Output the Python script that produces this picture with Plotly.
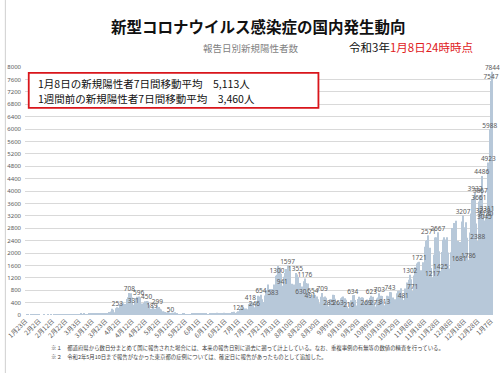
import pandas as pd
import plotly.graph_objects as go

# ---- daily new positive cases (report date), 2020-01-23 .. 2021-01-08 ----
jan20 = [0, 1, 1, 0, 1, 1, 2, 0, 3]
feb20 = [1, 2, 0, 0, 0, 1, 0, 0, 1, 0, 1, 0, 8, 3, 6, 5, 7, 4, 9, 12, 5, 1, 11, 4, 8, 13, 15, 11, 14]
mar20 = [14, 12, 16, 18, 33, 30, 43, 22, 29, 26, 41, 46, 52, 39, 37, 15, 44, 39, 40, 37, 58, 39, 43,
         41, 48, 96, 112, 200, 173, 87, 220]
apr20 = [253, 235, 351, 367, 383, 252, 351, 515, 576, 708, 701, 568, 331, 454, 549, 585, 596, 569, 370,
         372, 388, 440, 450, 436, 331, 201, 189, 276, 200, 195]
may20 = [299, 262, 200, 174, 120, 105, 100, 84, 105, 78, 50, 75, 73, 90, 63, 51, 30, 32, 30, 34, 38, 29,
         25, 27, 22, 28, 38, 49, 40, 38, 30]
jun20 = [40, 40, 38, 49, 37, 40, 34, 29, 31, 38, 41, 39, 35, 47, 72, 41, 37, 40, 66, 73, 60, 42, 47, 55,
         64, 98, 95, 104, 59, 85]
jul20 = [125, 195, 249, 274, 209, 160, 207, 189, 355, 418, 386, 409, 246, 334, 450, 622, 594, 654, 510,
         420, 630, 795, 981, 768, 840, 838, 583, 983, 1264, 1300, 1580]
aug20 = [1536, 1331, 941, 1235, 1356, 1485, 1597, 1567, 1437, 1005, 700, 986, 1355, 1304, 1224, 1034,
         630, 920, 1089, 1176, 1034, 1016, 743, 491, 600, 654, 640, 650, 600, 510, 380]
sep20 = [590, 709, 575, 598, 560, 430, 285, 510, 508, 650, 643, 525, 440, 263, 385, 540, 570, 598, 539,
         491, 278, 216, 398, 475, 634, 645, 484, 306, 516, 587]
oct20 = [560, 576, 554, 412, 269, 500, 470, 560, 623, 592, 430, 273, 536, 565, 703, 620, 615, 460, 313,
         439, 619, 606, 743, 735, 563, 421, 508, 703, 776, 781, 864]
nov20 = [610, 481, 858, 616, 1046, 1140, 1302, 1150, 771, 1278, 1543, 1660, 1704, 1721, 1440, 948, 1699,
         2201, 2386, 2418, 2571, 2168, 1518, 1217, 1941, 2500, 2506, 2667, 2059, 1425]
dec20 = [2031, 2431, 2512, 2436, 2508, 2019, 1499, 2021, 2804, 2971, 2774, 3041, 2390, 1681, 2352, 3015,
         3207, 2834, 2992, 2494, 1786, 2663, 3271, 3740, 3830, 3932, 2948, 2388, 3661, 3867, 4486]
jan21 = [3239, 3045, 3130, 3311, 4923, 5988, 7547, 7844]

cases = jan20 + feb20 + mar20 + apr20 + may20 + jun20 + jul20 + aug20 + sep20 + oct20 + nov20 + dec20 + jan21
dates = pd.date_range("2020-01-23", "2021-01-08", freq="D")
assert len(dates) == len(cases)
cats = [f"{d.month}月{d.day}日" for d in dates]
tick_labels = cats[::10]

# bars that carry a data label
label_dates = ["4月1日", "4月10日", "4月13日", "4月17日", "4月23日", "4月27日", "5月1日", "5月11日",
               "7月1日", "7月10日", "7月13日", "7月18日", "7月27日", "7月30日", "8月3日", "8月7日",
               "8月13日", "8月17日", "8月20日", "8月24日", "8月26日", "9月2日", "9月7日", "9月14日",
               "9月22日", "9月25日", "10月5日", "10月9日", "10月12日", "10月15日", "10月19日", "10月23日",
               "11月2日", "11月7日", "11月9日", "11月14日", "11月21日", "11月24日", "11月28日", "11月30日",
               "12月14日", "12月17日", "12月21日", "12月26日", "12月28日", "12月29日", "12月30日",
               "12月31日", "1月1日", "1月2日", "1月3日", "1月4日", "1月5日", "1月6日", "1月7日", "1月8日"]
label_vals = [cases[cats.index(c)] for c in label_dates]

title = "新型コロナウイルス感染症の国内発生動向"
subtitle = "報告日別新規陽性者数"
box_lines = ["1月8日の新規陽性者7日間移動平均　5,113人", "1週間前の新規陽性者7日間移動平均　3,460人"]
notes = ["※１　都道府県から数日分まとめて国に報告された場合には、本来の報告日別に過去に遡って計上している。なお、重複事例の有無等の数値の精査を行っている。",
         "※２　令和2年5月10日まで報告がなかった東京都の症例については、確定日に報告があったものとして追加した。"]

JP = "Noto Sans CJK JP"

fig = go.Figure()
fig.add_trace(go.Bar(x=cats, y=cases, marker=dict(color="#b7c8d9", line=dict(width=0)),
                     hoverinfo="x+y", showlegend=False))
fig.add_trace(go.Scatter(x=label_dates, y=label_vals, mode="text",
                         text=[str(v) for v in label_vals], textposition="top center",
                         textfont=dict(size=6.5, color="#595959", family="Noto Sans"),
                         cliponaxis=False, showlegend=False, hoverinfo="skip"))

fig.update_layout(
    width=500, height=373,
    margin=dict(l=21, r=5, t=67, b=58),
    paper_bgcolor="white", plot_bgcolor="white",
    bargap=0.2,
    font=dict(family=JP),
    xaxis=dict(type="category", range=[-0.5, len(cats) - 0.5], tickmode="array",
               tickvals=tick_labels, ticktext=tick_labels, tickangle=-45,
               tickfont=dict(size=6.5, color="#595959", family=JP), showgrid=False,
               showline=False, zeroline=False, ticks=""),
    yaxis=dict(range=[0, 8000], dtick=400, tickfont=dict(size=6, color="#595959", family="Noto Sans"),
               gridcolor="#d9d9d9", gridwidth=1, zeroline=False, showline=False, ticks="",
               ticklabelstandoff=3),
)

annos = [
    dict(x=0.498, y=1.165, text=f"<b>{title}</b>", font=dict(size=15.5, color="#111111", family=JP),
         xanchor="center", yanchor="middle"),
    dict(x=0.483, y=1.077, text=subtitle, font=dict(size=9.5, color="#7f7f7f", family=JP),
         xanchor="center", yanchor="middle"),
    dict(x=0.688, y=1.08, text="令和3年<span style='color:#e0201c'>1月8日24時時点</span>",
         font=dict(size=11.5, color="#111111", family=JP), xanchor="left", yanchor="middle"),
    dict(x=0.024, y=0.935, text=box_lines[0], font=dict(size=10.5, color="#111111", family=JP),
         xanchor="left", yanchor="middle"),
    dict(x=0.024, y=0.873, text=box_lines[1], font=dict(size=10.5, color="#111111", family=JP),
         xanchor="left", yanchor="middle"),
    dict(x=0.051, y=-0.133, text=notes[0], font=dict(size=5.4, color="#404040", family=JP),
         xanchor="left", yanchor="middle"),
    dict(x=0.051, y=-0.169, text=notes[1], font=dict(size=5.4, color="#404040", family=JP),
         xanchor="left", yanchor="middle"),
]
for a in annos:
    a.update(xref="paper", yref="paper", showarrow=False)
fig.update_layout(annotations=annos)

fig.update_layout(shapes=[
    dict(type="rect", xref="paper", yref="paper", x0=0.008, x1=0.627, y0=0.835, y1=0.976,
         line=dict(color="#d9151b", width=1.8), fillcolor="white", layer="above"),
    dict(type="line", xref="paper", yref="paper", x0=-0.042, x1=-0.042, y0=-0.235, y1=1.27,
         line=dict(color="#cfcfcf", width=1)),
])

fig.write_html("out.html", config={"displayModeBar": False},
               post_script="document.body.style.margin='0';document.body.style.overflow='hidden';")
